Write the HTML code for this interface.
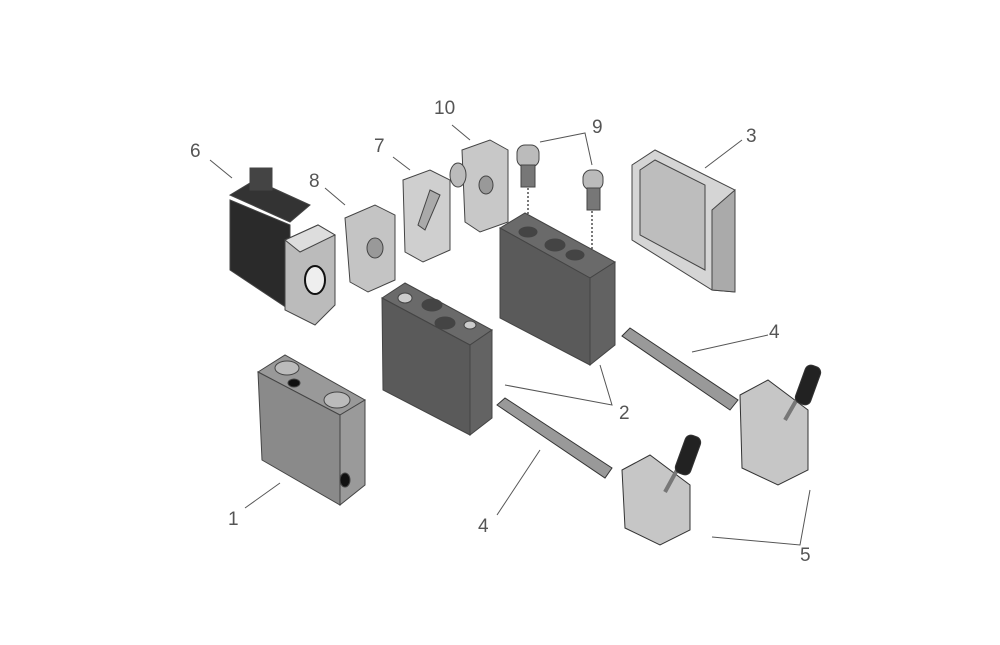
<!DOCTYPE html>
<html><head><meta charset="utf-8"><style>
html,body{margin:0;padding:0;background:#fff;}
svg{display:block;}
text{font-family:"Liberation Sans",sans-serif;font-size:19px;fill:#555;}
</style></head><body>
<svg width="1000" height="645" viewBox="0 0 1000 645">
<g stroke="#444" stroke-width="1">
<!-- Part 6 -->
<polygon points="230,195 255,180 310,205 290,222" fill="#333"/>
<rect x="250" y="168" width="22" height="22" fill="#444"/>
<polygon points="230,200 290,225 290,310 230,270" fill="#2a2a2a"/>
<polygon points="285,240 318,225 335,235 335,305 315,325 285,310" fill="#bbb"/>
<polygon points="285,240 318,225 335,235 300,252" fill="#ddd"/>
<ellipse cx="315" cy="280" rx="10" ry="14" fill="#eee" stroke="#111" stroke-width="2"/>
<!-- Part 8 -->
<polygon points="345,218 375,205 395,215 395,280 368,292 350,282" fill="#c4c4c4"/>
<ellipse cx="375" cy="248" rx="8" ry="10" fill="#999"/>
<!-- Part 7 -->
<polygon points="403,180 430,170 450,180 450,250 423,262 405,252" fill="#cfcfcf"/>
<polygon points="430,190 440,195 425,230 418,225" fill="#aaa"/>
<!-- Part 10 -->
<polygon points="462,150 490,140 508,150 508,222 480,232 465,222" fill="#c8c8c8"/>
<ellipse cx="486" cy="185" rx="7" ry="9" fill="#999"/>
<ellipse cx="458" cy="175" rx="8" ry="12" fill="#bbb"/>
<!-- Part 9 -->
<rect x="517" y="145" width="22" height="22" rx="8" fill="#bbb"/>
<rect x="521" y="165" width="14" height="22" fill="#777"/>
<rect x="583" y="170" width="20" height="20" rx="8" fill="#bbb"/>
<rect x="587" y="188" width="13" height="22" fill="#777"/>
</g>
<g stroke="#333" stroke-dasharray="2,2" stroke-width="1.3">
<line x1="528" y1="188" x2="528" y2="228"/><line x1="592" y1="211" x2="592" y2="255"/>
</g>
<g stroke="#444" stroke-width="1">
<!-- Part 3 -->
<polygon points="632,165 655,150 735,190 735,292 712,290 632,240" fill="#d5d5d5"/>
<polygon points="712,210 735,190 735,292 712,290" fill="#aaa"/>
<polygon points="640,170 655,160 705,185 705,270 640,235" fill="#bdbdbd"/>
<!-- Part 2 right -->
<polygon points="500,228 525,213 615,262 590,278" fill="#6a6a6a"/>
<polygon points="500,228 590,278 590,365 500,318" fill="#5a5a5a"/>
<polygon points="590,278 615,262 615,345 590,365" fill="#626262"/>
<ellipse cx="528" cy="232" rx="9" ry="5" fill="#444"/><ellipse cx="555" cy="245" rx="10" ry="6" fill="#444"/><ellipse cx="575" cy="255" rx="9" ry="5" fill="#444"/>
<!-- Part 2 left -->
<polygon points="382,298 405,283 492,330 470,345" fill="#6a6a6a"/>
<polygon points="382,298 470,345 470,435 383,390" fill="#5a5a5a"/>
<polygon points="470,345 492,330 492,418 470,435" fill="#636363"/>
<ellipse cx="405" cy="298" rx="7" ry="5" fill="#ccc"/><ellipse cx="432" cy="305" rx="10" ry="6" fill="#444"/><ellipse cx="445" cy="323" rx="10" ry="6" fill="#444"/><ellipse cx="470" cy="325" rx="6" ry="4" fill="#ccc"/>
<!-- Part 1 -->
<polygon points="258,372 285,355 365,400 340,415" fill="#999"/>
<polygon points="258,372 340,415 340,505 262,460" fill="#8a8a8a"/>
<polygon points="340,415 365,400 365,485 340,505" fill="#9a9a9a"/>
<ellipse cx="287" cy="368" rx="12" ry="7" fill="#bbb"/><ellipse cx="337" cy="400" rx="13" ry="8" fill="#bbb"/><ellipse cx="294" cy="383" rx="6" ry="4" fill="#111"/>
<ellipse cx="345" cy="480" rx="5" ry="7" fill="#111"/>
</g>
<!-- spools -->
<g stroke="#333" stroke-width="1">
<polygon points="497,405 505,398 612,468 605,478" fill="#999"/>
<polygon points="622,336 630,328 738,400 730,410" fill="#999"/>
</g>
<!-- levers -->
<g stroke="#333" stroke-width="1">
<polygon points="622,470 650,455 690,485 690,530 660,545 625,528" fill="#c6c6c6"/>
<line x1="665" y1="492" x2="688" y2="450" stroke="#777" stroke-width="4"/>
<rect x="680" y="435" width="16" height="40" rx="6" fill="#222" transform="rotate(20 688 455)"/>
<polygon points="740,395 768,380 808,410 808,470 778,485 742,468" fill="#c6c6c6"/>
<line x1="785" y1="420" x2="808" y2="380" stroke="#777" stroke-width="4"/>
<rect x="800" y="365" width="16" height="40" rx="6" fill="#222" transform="rotate(20 808 385)"/>
</g>
<!-- leaders -->
<g stroke="#555" stroke-width="1" fill="none">
<line x1="245" y1="508" x2="280" y2="483"/>
<polyline points="505,385 612,405 600,365"/>
<line x1="705" y1="168" x2="742" y2="140"/>
<line x1="692" y1="352" x2="768" y2="335"/>
<line x1="497" y1="515" x2="540" y2="450"/>
<polyline points="712,537 800,545 810,490"/>
<line x1="210" y1="160" x2="232" y2="178"/>
<line x1="393" y1="157" x2="410" y2="170"/>
<line x1="325" y1="188" x2="345" y2="205"/>
<polyline points="540,142 585,133 592,165"/>
<line x1="452" y1="125" x2="470" y2="140"/>
</g>
<text x="228" y="525">1</text>
<text x="619" y="419">2</text>
<text x="746" y="142">3</text>
<text x="769" y="338">4</text>
<text x="478" y="532">4</text>
<text x="800" y="561">5</text>
<text x="190" y="157">6</text>
<text x="374" y="152">7</text>
<text x="309" y="187">8</text>
<text x="592" y="133">9</text>
<text x="434" y="114">10</text>
</svg>
</body></html>
